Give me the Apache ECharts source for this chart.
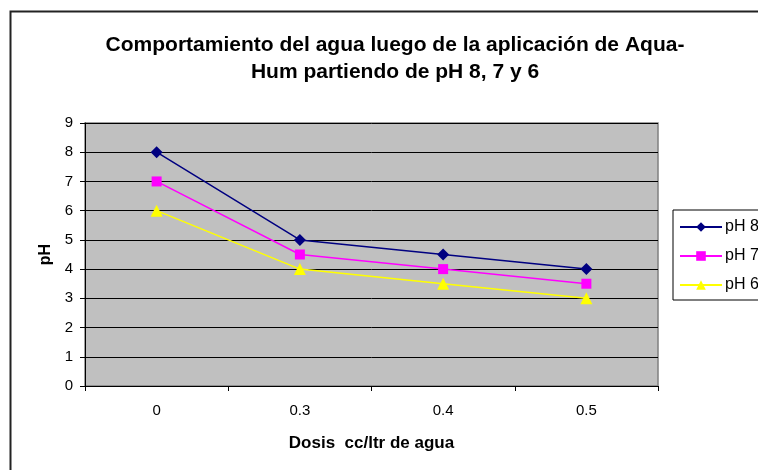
<!DOCTYPE html>
<html><head><meta charset="utf-8">
<script src="https://cdn.jsdelivr.net/npm/echarts@6/dist/echarts.min.js"></script>
<style>html,body{margin:0;padding:0;background:#fff}#c{width:758px;height:470px}</style>
</head><body><div id="c"></div>
<script>
const categories = ['0', '0.3', '0.4', '0.5'];
const seriesNames = ['pH 8', 'pH 7', 'pH 6'];
const ph8 = [8, 5, 4.5, 4];
const ph7 = [7, 4.5, 4, 3.5];
const ph6 = [6, 4, 3.5, 3];
const yTicks = [0, 9, 1];

const chart = echarts.init(document.getElementById('c'), null, {renderer: 'canvas'});
const font = 'Arial, "Liberation Sans", sans-serif';
function mk(name, data, color, symbol, size) {
  return {
    name, type: 'line', data, symbol, symbolSize: size,
    itemStyle: {color}, lineStyle: {color, width: 1.5},
    emphasis: {disabled: true}, animation: false
  };
}
chart.setOption({
  animation: false,
  textStyle: {fontFamily: font},
  graphic: [{
    type: 'rect', z: -10, silent: true,
    shape: {x: 10.5, y: 11.5, width: 900, height: 600},
    style: {fill: '#fff', stroke: '#222', lineWidth: 2}
  }],
  title: {
    text: 'Comportamiento del agua luego de la aplicación de Aqua-\nHum partiendo de pH 8, 7 y 6',
    left: 390, textAlign: 'center', top: 27,
    textStyle: {fontFamily: font, fontSize: 21, fontWeight: 'bold', color: '#000', lineHeight: 27}
  },
  legend: {
    orient: 'vertical', left: 673, top: 210,
    padding: [9, 8, 7, 6], itemGap: 13, itemWidth: 42, itemHeight: 12,
    borderColor: '#000', borderWidth: 1, backgroundColor: '#fff',
    textStyle: {fontFamily: font, fontSize: 16, color: '#000', padding: [0, 0, 0, -2]},
    data: seriesNames
  },
  grid: {
    left: 85, right: 100, top: 123, bottom: 84, show: true,
    backgroundColor: '#c0c0c0', borderColor: '#808080', borderWidth: 1.5
  },
  xAxis: {
    type: 'category', data: categories, boundaryGap: true,
    name: 'Dosis  cc/ltr de agua', nameLocation: 'middle', nameGap: 49,
    nameTextStyle: {fontFamily: font, fontSize: 17, fontWeight: 'bold', color: '#000'},
    axisLine: {lineStyle: {color: '#000', width: 1}},
    axisTick: {show: true, alignWithLabel: false, length: 5, lineStyle: {color: '#000'}},
    axisLabel: {fontFamily: font, fontSize: 15, color: '#000', margin: 17},
    splitLine: {show: false}
  },
  yAxis: {
    type: 'value', min: yTicks[0], max: yTicks[1], interval: yTicks[2],
    name: 'pH', nameLocation: 'middle', nameGap: 31, nameRotate: 90,
    nameTextStyle: {fontFamily: font, fontSize: 16, fontWeight: 'bold', color: '#000'},
    axisLine: {show: true, lineStyle: {color: '#000', width: 1}},
    axisTick: {show: true, length: 5, lineStyle: {color: '#000'}},
    axisLabel: {fontFamily: font, fontSize: 15, color: '#000', margin: 12},
    splitLine: {show: true, lineStyle: {color: '#000', width: 1}}
  },
  series: [
    mk(seriesNames[0], ph8, '#000080', 'diamond', 12),
    mk(seriesNames[1], ph7, '#ff00ff', 'rect', 10),
    mk(seriesNames[2], ph6, '#ffff00', 'triangle', 12)
  ]
});
</script></body></html>
